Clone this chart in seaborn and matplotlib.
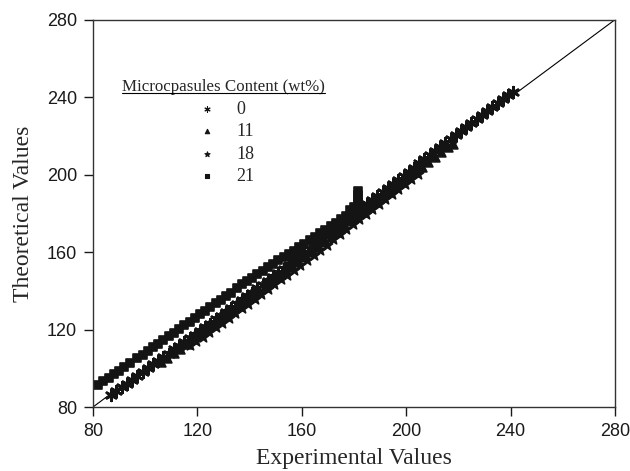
import numpy as np
import pandas as pd
import matplotlib
matplotlib.use("Agg")
import matplotlib.pyplot as plt
from matplotlib.lines import Line2D
import seaborn as sns

# ---- data ----
contents = ["0", "11", "18", "21"]

x_0 = [87, 89, 91, 93, 95, 97, 99, 101, 103, 105, 107, 109, 111, 113, 115, 117, 119, 121, 123, 125,
       127, 129, 131, 133, 135, 137, 139, 141, 143, 145, 147, 149, 151, 153, 155, 157, 159, 161, 163, 165,
       167, 169, 171, 173, 175, 177, 179, 181, 183, 185, 187, 189, 191, 193, 195, 197, 199, 201, 203, 205,
       207, 209, 211, 213, 215, 217, 219, 221, 223, 225, 227, 229, 231, 233, 235, 237, 239, 241]
y_0 = [86.2, 88.1, 90.3, 92.1, 94.2, 96.1, 98.3, 100.1, 102.2, 104.0, 105.8, 107.6, 109.7, 111.5, 113.4,
       115.6, 117.4, 119.3, 121.2, 123.1, 125.3, 127.0, 129.2, 131.1, 133.0, 135.2, 137.1, 139.0, 141.2,
       143.1, 145.0, 147.2, 149.3, 151.1, 153.3, 155.4, 157.5, 159.6, 161.8, 163.9, 166.0, 168.1, 170.2,
       172.3, 174.3, 176.4, 178.4, 180.5, 182.6, 184.6, 186.7, 188.8, 190.9, 193.0, 195.1, 197.2, 199.3,
       201.5, 203.6, 205.8, 207.9, 210.1, 212.2, 214.3, 216.4, 218.5, 220.5, 222.6, 224.7, 226.7, 228.8,
       230.8, 232.9, 234.9, 236.9, 239.0, 241.0, 242.8]

x_11 = [106, 108.5, 111, 113.5, 116, 118.5, 121, 123.5, 126, 128.5, 131, 133.5, 136, 138.5, 141, 143.5,
        146, 148.5, 151, 153.5, 156, 158.5, 161, 163.5, 166, 168.5, 171, 173.5, 176, 178.5, 181, 183.5,
        186, 188.5, 191, 193.5, 196, 198.5, 201, 203.5, 206, 208.5, 211, 213.5, 216, 218]
y_11 = [103.2, 105.4, 107.8, 110.1, 112.6, 115.0, 117.6, 119.9, 122.3, 124.8, 127.2, 129.6, 132.1, 134.6,
        137.0, 139.6, 142.1, 144.7, 147.2, 149.8, 152.4, 155.0, 157.6, 160.2, 162.8, 165.4, 168.0, 170.6,
        173.2, 175.8, 178.3, 180.9, 183.4, 186.0, 188.5, 191.1, 193.7, 196.2, 198.8, 201.3, 203.9, 206.4,
        209.0, 211.6, 214.1, 216.0]

x_18 = [117, 119.5, 122, 124.5, 127, 129.5, 132, 134.5, 137, 139.5, 142, 144.5, 147, 149.5, 152, 154.5,
        157, 159.5, 162, 164.5, 167, 169.5, 172, 174.5, 177, 179.5, 182, 184.5, 187, 189.5, 192, 194.5,
        197, 199.5, 202, 204.5]
y_18 = [111.8, 114.0, 116.4, 118.8, 121.3, 123.6, 126.0, 128.5, 130.9, 133.4, 135.8, 138.3, 140.8, 143.3,
        145.9, 148.4, 151.0, 153.5, 156.1, 158.7, 161.3, 163.9, 166.5, 169.1, 171.7, 174.3, 177.0, 179.6,
        182.2, 184.8, 187.4, 190.0, 192.6, 195.1, 197.7, 200.2]

x_21 = [82, 84, 86, 88, 90, 92, 94, 97, 99, 101, 103, 105, 107, 109, 111, 113, 115, 117, 119, 121, 123,
        125, 127, 129, 131, 133, 135, 137, 139, 141, 143, 145, 147, 149, 151, 153, 155, 157, 159, 161, 163,
        165, 167, 169, 171, 173, 175, 177, 178.5, 180, 181.5, 181.5, 181.5, 181.5]
y_21 = [91.4, 93.2, 95.1, 97.0, 98.8, 100.8, 102.6, 105.1, 106.9, 108.8, 110.9, 112.7, 114.6, 116.6, 118.4,
        120.3, 122.3, 124.0, 125.9, 127.9, 129.7, 131.6, 133.6, 135.4, 137.2, 139.1, 141.7, 143.3, 145.1,
        146.8, 148.5, 150.4, 152.2, 153.8, 155.7, 157.3, 159.2, 160.8, 162.7, 164.3, 166.1, 168.0, 169.7,
        171.6, 173.3, 175.2, 176.9, 178.8, 181.5, 183.5, 185.5, 187.5, 189.5, 191.5]

ticks = [80, 120, 160, 200, 240, 280]
line_ends = [80, 280]

series = {"0": (x_0, y_0), "11": (x_11, y_11), "18": (x_18, y_18), "21": (x_21, y_21)}
frames = [pd.DataFrame({"x": xs, "y": ys, "content": k}) for k, (xs, ys) in series.items()]
df = pd.concat(frames, ignore_index=True)

# ---- styling ----
sns.set_style("ticks")
plt.rcParams["font.family"] = ["Liberation Sans", "DejaVu Sans"]
serif = ["Liberation Serif", "DejaVu Serif"]

fig = plt.figure(figsize=(6.3, 4.71), dpi=100)
ax = fig.add_axes([93 / 630, 1 - 407 / 471, (615 - 93) / 630, (407 - 19.7) / 471])

ax.plot(line_ends, line_ends, color="black", lw=0.8, zorder=1)

markers = {"0": (6, 2, 0), "11": "^", "18": "*", "21": "s"}
sizes = {"0": 60, "11": 40, "18": 60, "21": 32}
widths = {"0": 1.9, "11": 1.2, "18": 1.2, "21": 1.2}
for k in contents:
    sub = df[df["content"] == k]
    sns.scatterplot(data=sub, x="x", y="y", ax=ax, marker=markers[k], s=sizes[k],
                    color="#141414", edgecolor="#141414", linewidth=widths[k], label=k, zorder=2)

ax.set_xlim(80, 280)
ax.set_ylim(80, 280)
ax.set_xticks(ticks)
ax.set_yticks(ticks)
ax.tick_params(axis="both", direction="out", length=6.5, width=1, labelsize=13, pad=5,
               colors="#1a1a1a")
ax.tick_params(top=False, right=False)
for sp in ax.spines.values():
    sp.set_linewidth(1.0)
    sp.set_color("#333333")

ax.set_xlabel("Experimental Values", fontsize=17, family=serif, labelpad=6)
ax.set_ylabel("Theoretical Values", fontsize=17, family=serif, labelpad=9)

leg = ax.legend(title="Microcpasules Content (wt%)", loc="upper left",
                bbox_to_anchor=(0.056, 0.846), frameon=False, borderaxespad=0, borderpad=0,
                prop={"family": serif, "size": 13}, markerscale=0.5,
                labelspacing=0.3, handletextpad=0.8, handlelength=1.6)
leg.get_title().set_fontfamily(serif)
leg.get_title().set_fontsize(12.2)
for h in leg.legend_handles:
    h.set_linewidth(0.8)

fig.canvas.draw()
renderer = fig.canvas.get_renderer()
bb = leg.get_title().get_window_extent(renderer)
inv = fig.transFigure.inverted()
(x0, y0), (x1, y1) = inv.transform([(bb.x0, bb.y0), (bb.x1, bb.y0)])
fig.add_artist(Line2D([x0, x1], [y0 + 2.5 / 471, y0 + 2.5 / 471], color="black", lw=0.8,
                      transform=fig.transFigure))

fig.savefig("out.png", dpi=100)
